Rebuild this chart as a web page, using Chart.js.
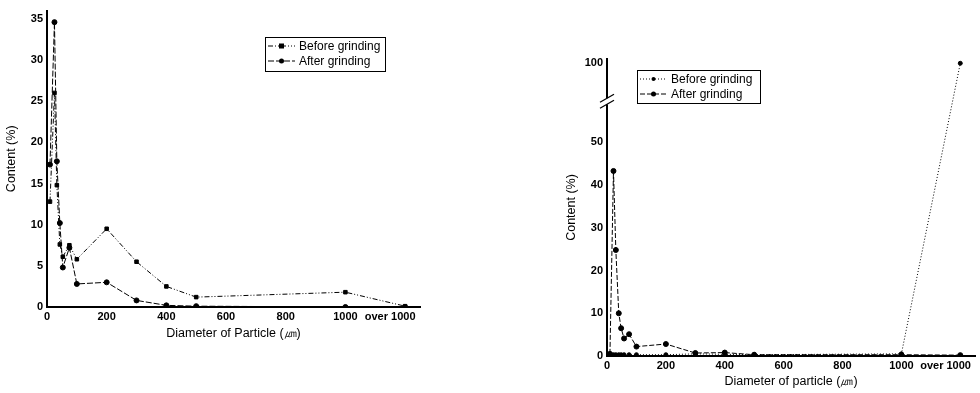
<!DOCTYPE html>
<html lang="en">
<head>
<meta charset="UTF-8">
<title>Particle size distribution</title>
<script src="https://cdn.jsdelivr.net/npm/chart.js"></script>
<style>
  body { margin: 0; background: #fff; width: 980px; height: 393px; overflow: hidden; position: relative; font-family: "Liberation Sans", Arial, sans-serif; }
  .box { position: absolute; top: 0; }
  #leftBox { left: 0; width: 440px; height: 345px; }
  #rightBox { left: 560px; width: 420px; height: 393px; }
</style>
</head>
<body>
<div class="box" id="leftBox"><canvas id="leftChart"></canvas></div>
<div class="box" id="rightBox"><canvas id="rightChart"></canvas></div>

<script>
// left chart data
const sizesLeft = [10, 25, 33, 43, 53, 75, 100, 200, 300, 400, 500, 1000, 1200];
const beforeLeft = [12.8, 26.0, 14.8, 7.6, 6.1, 7.5, 5.8, 9.5, 5.5, 2.5, 1.2, 1.8, 0.1];
const afterLeft = [17.3, 34.6, 17.7, 10.2, 4.8, 7.2, 2.8, 3.0, 0.8, 0.2, 0.1, 0.0, 0.0];

// right chart data
const sizesRight = [10, 22, 30, 40, 48, 58, 75, 100, 200, 300, 400, 500, 1000, 1200];
const beforeRight = [0.3, 0.3, 0.3, 0.3, 0.3, 0.3, 0.3, 0.3, 0.3, 0.5, 0.4, 0.3, 0.5, 100];
const afterRight = [0.5, 43.3, 24.8, 10.0, 6.5, 4.1, 5.1, 2.2, 2.8, 0.7, 0.8, 0.3, 0.3, 0.2];

const xTicks = [0, 200, 400, 600, 800, 1000, 1150];
const xTickLabels = ["0", "200", "400", "600", "800", "1000", "over 1000"];
const yTicksLeft = [0, 5, 10, 15, 20, 25, 30, 35];
const yTicksRight = [0, 10, 20, 30, 40, 50, 100];
const seriesNames = ["Before grinding", "After grinding"];

// broken y axis on the right chart: everything above 60 is pulled down
const BREAK_FROM = 60, BREAK_SHIFT = 31.5;
const brk = v => v > BREAK_FROM ? v - BREAK_SHIFT : v;

const tickFont = { family: "Liberation Sans", size: 11, weight: "bold" };
const titleFont = { family: "Liberation Sans", size: 12.5 };

function pts(xs, ys, f) {
  return xs.map((x, i) => ({ x: x, y: f ? f(ys[i]) : ys[i] }));
}

// legend with a box round it, drawn in the chart area
const boxLegend = {
  id: "boxLegend",
  afterDraw(chart, args, opts) {
    const ctx = chart.ctx;
    const { x, y, w, h } = opts;
    ctx.save();
    ctx.strokeStyle = "#000";
    ctx.lineWidth = 1;
    ctx.fillStyle = "#fff";
    ctx.fillRect(x, y, w, h);
    ctx.strokeRect(x + 0.5, y + 0.5, w, h);
    chart.data.datasets.forEach((ds, i) => {
      const ly = y + 9 + i * 15;
      ctx.setLineDash(ds.borderDash || []);
      ctx.beginPath();
      ctx.moveTo(x + 3, ly);
      ctx.lineTo(x + 30, ly);
      ctx.stroke();
      ctx.setLineDash([]);
      ctx.fillStyle = "#000";
      const r = ds.pointRadius;
      if (ds.pointStyle === "rect") ctx.fillRect(x + 16.5 - r, ly - r, 2 * r, 2 * r);
      else { ctx.beginPath(); ctx.arc(x + 16.5, ly, r, 0, Math.PI * 2); ctx.fill(); }
      ctx.font = "12px 'Liberation Sans'";
      ctx.textBaseline = "middle";
      ctx.fillText(ds.label, x + 34, ly + 1);
    });
    ctx.restore();
  }
};

// the // mark on the broken axis
const breakMark = {
  id: "breakMark",
  afterDraw(chart, args, opts) {
    if (!opts.on) return;
    const ctx = chart.ctx;
    const ys = chart.scales.y, xs = chart.scales.x;
    const py = ys.getPixelForValue(opts.at);
    const px = xs.left;
    ctx.save();
    ctx.fillStyle = "#fff";
    ctx.fillRect(px - 3, py - 3, 6, 6);
    ctx.strokeStyle = "#000";
    ctx.lineWidth = 1.3;
    [-3, 3].forEach(d => {
      ctx.beginPath();
      ctx.moveTo(px - 7, py + d + 4);
      ctx.lineTo(px + 7, py + d - 4);
      ctx.stroke();
    });
    ctx.restore();
  }
};

function makeChart(id, cfg) {
  return new Chart(document.getElementById(id), {
    type: "scatter",
    data: { datasets: cfg.datasets },
    options: {
      responsive: true,
      maintainAspectRatio: false,
      animation: false,
      layout: { padding: cfg.padding },
      plugins: {
        legend: { display: false },
        tooltip: { enabled: false },
        boxLegend: cfg.legend,
        breakMark: cfg.breakMark || { on: false }
      },
      scales: {
        x: {
          type: "linear", min: 0, max: 1250,
          afterBuildTicks: s => { s.ticks = xTicks.map(v => ({ value: v })); },
          ticks: {
            color: "#000", font: tickFont, padding: 3, maxRotation: 0, autoSkip: false,
            callback: v => xTickLabels[xTicks.indexOf(v)]
          },
          grid: { display: false, drawTicks: false },
          border: { color: "#000", width: 2 },
          title: { display: true, text: cfg.xTitle, color: "#000", font: titleFont, padding: { top: 0 } },
          afterFit: s => { s.height = cfg.xHeight; }
        },
        y: {
          type: "linear", min: 0, max: cfg.yMax,
          afterBuildTicks: s => { s.ticks = cfg.yTicks.map(v => ({ value: v })); },
          ticks: { color: "#000", font: tickFont, padding: 4, callback: cfg.yLabel },
          grid: { display: false, drawTicks: false },
          border: { color: "#000", width: 2 },
          title: { display: true, text: "Content (%)", color: "#000", font: titleFont, padding: { left: 8 } },
          afterFit: s => { s.width = 47; }
        }
      }
    },
    plugins: [boxLegend, breakMark]
  });
}

makeChart("leftChart", {
  datasets: [
    { label: seriesNames[0], data: pts(sizesLeft, beforeLeft), showLine: true, borderColor: "#000", borderWidth: 1,
      borderDash: [5, 2, 1, 2, 1, 2], pointStyle: "rect", pointRadius: 2.5, backgroundColor: "#000" },
    { label: seriesNames[1], data: pts(sizesLeft, afterLeft), showLine: true, borderColor: "#000", borderWidth: 1,
      borderDash: [6, 2], pointStyle: "circle", pointRadius: 2.5, backgroundColor: "#000" }
  ],
  padding: { top: 10, right: 20, bottom: 0, left: 0 },
  xTitle: "Diameter of Particle (㎛)",
  xHeight: 38,
  yMax: 36,
  yTicks: yTicksLeft,
  yLabel: v => v,
  legend: { x: 265, y: 37, w: 120, h: 34 }
});

makeChart("rightChart", {
  datasets: [
    { label: seriesNames[0], data: pts(sizesRight, beforeRight, brk), showLine: true, borderColor: "#000", borderWidth: 1,
      borderDash: [1, 2], pointStyle: "circle", pointRadius: 2, backgroundColor: "#000" },
    { label: seriesNames[1], data: pts(sizesRight, afterRight, brk), showLine: true, borderColor: "#000", borderWidth: 1,
      borderDash: [5, 2], pointStyle: "circle", pointRadius: 2.5, backgroundColor: "#000" }
  ],
  padding: { top: 59, right: 2, bottom: 0, left: 0 },
  xTitle: "Diameter of particle (㎛)",
  xHeight: 37,
  yMax: 69.5,
  yTicks: yTicksRight.map(brk),
  yLabel: v => yTicksRight[yTicksRight.map(brk).indexOf(v)],
  legend: { x: 77, y: 70, w: 123, h: 33 },
  breakMark: { on: true, at: 59.6 }
});
</script>
</body>
</html>
